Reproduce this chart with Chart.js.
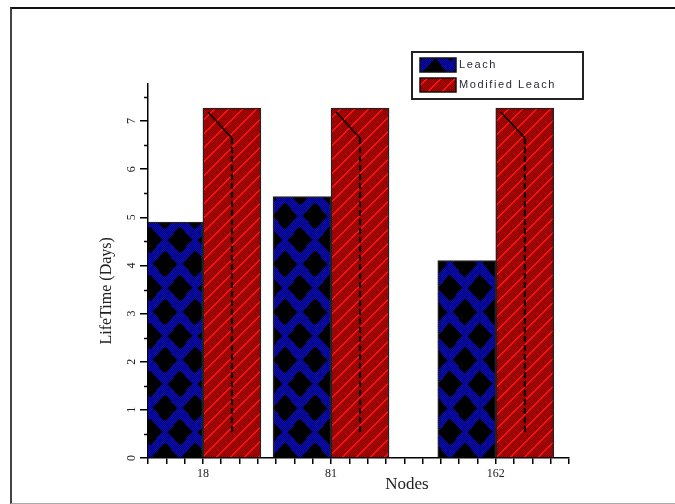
<!DOCTYPE html>
<html><head><meta charset="utf-8">
<script src="https://cdn.jsdelivr.net/npm/chart.js@4/dist/chart.umd.min.js"></script>
<style>
html,body{margin:0;padding:0;background:#fff;overflow:hidden;}
#wrap{position:relative;width:675px;height:504px;overflow:hidden;}
#frame{position:absolute;left:10px;top:7px;width:680px;height:494px;border-top:2px solid #111;border-left:2px solid #444;border-bottom:1px solid #aaa;pointer-events:none;}
canvas{display:block;}
</style></head><body>
<div id="wrap"><canvas id="c" width="675" height="504"></canvas><div id="frame"></div></div>
<script>
// ---- data ----
const nodes = [18, 81, 162];
const leach = [4.9, 5.43, 4.1];
const modifiedLeach = [7.27, 7.27, 7.27];
const seriesNames = ['Leach', 'Modified Leach'];
const xTickLabels = [18, 81, 162];
const xTitle = 'Nodes';
const yTitle = 'LifeTime (Days)';

// ---- fill patterns ----
function makeBluePattern() {
  const W = 30, H = 48;
  const c = document.createElement('canvas'); c.width = W; c.height = H;
  const g = c.getContext('2d');
  const img = g.createImageData(W, H);
  const centers = [[0,0],[W,0],[0,H],[W,H],[W/2,H/2]];
  for (let y = 0; y < H; y++) for (let x = 0; x < W; x++) {
    let black = false;
    for (const [cx, cy] of centers) {
      if (Math.abs(x + 0.5 - cx) / 12.5 + Math.abs(y + 0.5 - cy) / 13.5 <= 1) black = true;
    }
    let r = 0, gg = 0, b = 0;
    if (!black) { const even = (x + y) % 2 === 0; b = even ? 205 : 95; r = even ? 12 : 0; gg = even ? 12 : 0; }
    const i = (y * W + x) * 4;
    img.data[i] = r; img.data[i+1] = gg; img.data[i+2] = b; img.data[i+3] = 255;
  }
  g.putImageData(img, 0, 0);
  return g.createPattern(c, 'repeat');
}
function makeRedPattern() {
  const S = 14;
  const c = document.createElement('canvas'); c.width = S; c.height = S;
  const g = c.getContext('2d');
  const img = g.createImageData(S, S);
  for (let y = 0; y < S; y++) for (let x = 0; x < S; x++) {
    const onLine = ((x + y) % S) < 2;
    let r = ((x + y) % 2 === 0) ? 195 : 120, gg = 0, b = 0;
    if (onLine) { r = 250; gg = 20; b = 20; }
    const i = (y * S + x) * 4;
    img.data[i] = r; img.data[i+1] = gg; img.data[i+2] = b; img.data[i+3] = 255;
  }
  g.putImageData(img, 0, 0);
  return g.createPattern(c, 'repeat');
}
const bluePat = makeBluePattern();
const redPat = makeRedPattern();

const SERIF = '"Liberation Serif", "Times New Roman", serif';
const SANS = '"Liberation Sans", Arial, sans-serif';

// ---- plugins ----
const decor = {
  id: 'decor',
  afterDatasetsDraw(chart) {
    const ctx = chart.ctx, ca = chart.chartArea;
    const meta = chart.getDatasetMeta(1);
    ctx.save();
    ctx.beginPath(); ctx.rect(ca.left, ca.top - 2, ca.right - ca.left, ca.bottom - ca.top + 2); ctx.clip();
    ctx.strokeStyle = '#000'; ctx.lineWidth = 2;
    meta.data.forEach(el => {
      ctx.setLineDash([6, 3]);
      ctx.beginPath(); ctx.moveTo(el.x, el.y + 30); ctx.lineTo(el.x, el.base - 25); ctx.stroke();
      ctx.setLineDash([]);
      ctx.lineWidth = 1.5;
      ctx.beginPath(); ctx.moveTo(el.x - el.width / 2 + 5, el.y + 4); ctx.lineTo(el.x, el.y + 30); ctx.stroke();
      ctx.lineWidth = 2;
    });
    ctx.restore();
  },
  afterDraw(chart) {
    const ctx = chart.ctx, ca = chart.chartArea;
    const ys = chart.scales.y;
    ctx.save();
    // minor y ticks
    ctx.strokeStyle = '#000'; ctx.lineWidth = 1.5;
    for (let v = 0.5; v < ys.max; v += 1) {
      const p = Math.round(ys.getPixelForValue(v)) + 0.5;
      ctx.beginPath(); ctx.moveTo(ca.left - 4, p); ctx.lineTo(ca.left, p); ctx.stroke();
    }
    // axis titles
    ctx.fillStyle = '#222';
    ctx.font = '17px ' + SERIF;
    ctx.textAlign = 'center'; ctx.textBaseline = 'middle';
    ctx.fillText(xTitle, ca.left + 0.615 * (ca.right - ca.left), 485);
    ctx.save();
    ctx.translate(107, ca.top + 0.553 * (ca.bottom - ca.top));
    ctx.rotate(-Math.PI / 2);
    ctx.font = '16px ' + SERIF;
    ctx.fillText(yTitle, 0, 0);
    ctx.restore();
    // legend
    const lx = 412, ly = 52, lw = 171, lh = 47;
    ctx.fillStyle = '#fff';
    ctx.fillRect(lx, ly, lw, lh);
    ctx.strokeStyle = '#222'; ctx.lineWidth = 2;
    ctx.strokeRect(lx, ly, lw, lh);
    const pats = [bluePat, redPat];
    seriesNames.forEach((name, i) => {
      const sy = ly + 6 + i * 20;
      ctx.fillStyle = pats[i];
      ctx.fillRect(420, sy, 36, 14);
      ctx.strokeStyle = '#111'; ctx.lineWidth = 1.5;
      ctx.strokeRect(420, sy, 36, 14);
      ctx.fillStyle = '#2a2a3a';
      ctx.font = '11px ' + SANS;
      ctx.textAlign = 'left'; ctx.textBaseline = 'middle';
      try { ctx.letterSpacing = '1.6px'; } catch (e) {}
      ctx.fillText(name, 459, sy + 7);
      try { ctx.letterSpacing = '0px'; } catch (e) {}
    });
    ctx.restore();
  }
};

const toPoints = arr => nodes.map((n, i) => ({ x: n, y: arr[i] }));

new Chart(document.getElementById('c'), {
  type: 'bar',
  data: {
    datasets: [
      { label: seriesNames[0], data: toPoints(leach), backgroundColor: bluePat, borderColor: '#222', borderWidth: 1.5, borderSkipped: 'start', barThickness: 58 },
      { label: seriesNames[1], data: toPoints(modifiedLeach), backgroundColor: redPat, borderColor: '#222', borderWidth: 1.5, borderSkipped: 'start', barThickness: 58 }
    ]
  },
  options: {
    responsive: false,
    animation: false,
    devicePixelRatio: 1,
    layout: { padding: { left: 118, top: 84, right: 106, bottom: 16 } },
    plugins: { legend: { display: false }, tooltip: { enabled: false }, title: { display: false } },
    scales: {
      x: {
        type: 'linear', min: -9, max: 198, offset: false,
        grid: { display: true, drawOnChartArea: false, offset: false, tickLength: 6, color: '#000', lineWidth: 1.5 },
        border: { display: true, color: '#000', width: 1.5 },
        ticks: {
          stepSize: 9, autoSkip: false, maxRotation: 0, minRotation: 0, padding: 3,
          color: '#222', font: { family: SERIF, size: 12 },
          callback: v => xTickLabels.includes(v) ? String(v) : ''
        },
        title: { display: false },
        afterFit: s => { s.height = 30; }
      },
      y: {
        type: 'linear', min: 0, max: 7.77,
        grid: { display: true, drawOnChartArea: false, tickLength: 8, color: '#000', lineWidth: 1.5 },
        border: { display: true, color: '#000', width: 1.5 },
        ticks: {
          stepSize: 1, includeBounds: false, minRotation: 90, maxRotation: 90, crossAlign: 'center', padding: 5,
          color: '#222', font: { family: SERIF, size: 12 },
          callback: v => Number.isInteger(v) ? String(v) : ''
        },
        title: { display: false },
        afterFit: s => { s.width = 30; }
      }
    }
  },
  plugins: [decor]
});
</script>
</body></html>
